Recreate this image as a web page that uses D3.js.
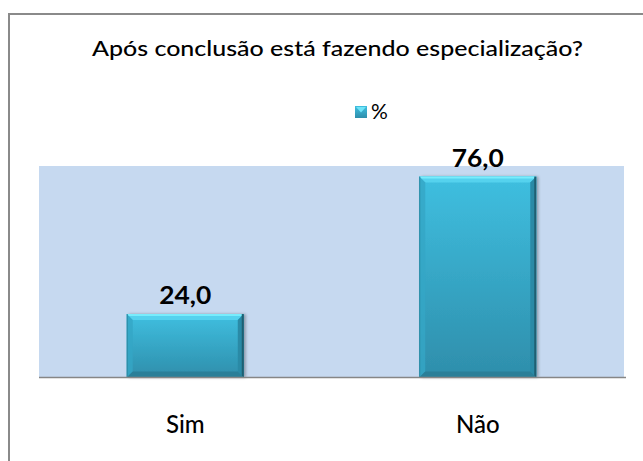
<!DOCTYPE html>
<html><head><meta charset="utf-8">
<script src="https://cdn.jsdelivr.net/npm/d3@7"></script>
<style>body{margin:0;background:#fff}svg{display:block}</style>
</head><body>
<script>
const categories = ["Sim", "Não"];
const values = [24.0, 76.0];
const seriesName = "%";
const title = "Após conclusão está fazendo especialização?";
const yMax = 80;

const W = 643, H = 461;
const svg = d3.select("body").append("svg").attr("width", W).attr("height", H);
const font = "Lato, 'Open Sans', sans-serif";

// frame
svg.append("rect").attr("x", 9).attr("y", 14).attr("width", 700).attr("height", 600)
  .attr("fill", "#fff").attr("stroke", "#8a8a8a").attr("stroke-width", 2);

const plot = {left: 39, right: 624, top: 166, bottom: 377.5};
const x = d3.scaleBand().domain(categories).range([plot.left, plot.right]).paddingInner(0.6).paddingOuter(0.3);
const y = d3.scaleLinear().domain([0, yMax]).range([plot.bottom, plot.top]);

svg.append("rect").attr("x", plot.left).attr("y", plot.top)
  .attr("width", plot.right - plot.left).attr("height", plot.bottom - plot.top).attr("fill", "#c6d9f0");

const defs = svg.append("defs");
const g1 = defs.append("linearGradient").attr("id", "barg").attr("x1", 0).attr("y1", 0).attr("x2", 0).attr("y2", 1);
g1.append("stop").attr("offset", "0%").attr("stop-color", "#3fbfe0");
g1.append("stop").attr("offset", "100%").attr("stop-color", "#2e8eab");
const f = defs.append("filter").attr("id", "sh").attr("x", "-20%").attr("y", "-20%").attr("width", "140%").attr("height", "140%");
f.append("feGaussianBlur").attr("in", "SourceAlpha").attr("stdDeviation", 1.5);
f.append("feOffset").attr("dx", 2).attr("dy", 0).attr("result", "b");
f.append("feComponentTransfer").append("feFuncA").attr("type", "linear").attr("slope", 0.3);
const m = f.append("feMerge"); m.append("feMergeNode"); m.append("feMergeNode").attr("in", "SourceGraphic");

const bars = svg.append("g").selectAll("g").data(categories).join("g");
bars.each(function(c, i) {
  const g = d3.select(this);
  const x0 = x(c), x1 = x(c) + x.bandwidth(), y0 = y(values[i]), y1 = y(0);
  const b = 6;
  g.append("rect").attr("x", x0).attr("y", y0).attr("width", x1 - x0).attr("height", y1 - y0)
    .attr("fill", "url(#barg)").attr("filter", "url(#sh)");
  g.append("path").attr("d", `M${x0},${y0}L${x1},${y0}L${x1-b},${y0+b}L${x0+b},${y0+b}Z`).attr("fill", "#55d2ee");
  g.append("path").attr("d", `M${x0},${y0}L${x1},${y0}L${x1-2},${y0+2}L${x0+2},${y0+2}Z`).attr("fill", "#78ecfc");
  g.append("path").attr("d", `M${x0},${y0}L${x0+b},${y0+b}L${x0+b},${y1-b}L${x0},${y1}Z`).attr("fill", "#35a6c6").attr("opacity", 0.8);
  g.append("path").attr("d", `M${x1},${y0}L${x1-b},${y0+b}L${x1-b},${y1-b}L${x1},${y1}Z`).attr("fill", "#2a8aa6");
  g.append("rect").attr("x", x1 - 2).attr("y", y0).attr("width", 2).attr("height", y1 - y0).attr("fill", "#1f5f72");
  g.append("path").attr("d", `M${x0},${y1}L${x0+b},${y1-b}L${x1-b},${y1-b}L${x1},${y1}Z`).attr("fill", "#2a7f98");
  g.append("rect").attr("x", x0).attr("y", y0).attr("width", 1).attr("height", y1 - y0).attr("fill", "#2b8aa4");
});

// axis line
svg.append("line").attr("x1", plot.left).attr("x2", plot.right + 2).attr("y1", plot.bottom).attr("y2", plot.bottom)
  .attr("stroke", "#868686").attr("stroke-width", 1.5);

// data labels
svg.append("g").selectAll("text").data(categories).join("text")
  .attr("x", c => x(c) + x.bandwidth() / 2)
  .attr("y", (c, i) => y(values[i]) - 10)
  .attr("text-anchor", "middle").attr("font-family", font).attr("font-weight", "bold").attr("font-size", 25)
  .attr("fill", "#000").attr("textLength", 52).attr("lengthAdjust", "spacingAndGlyphs")
  .text((c, i) => values[i].toFixed(1).replace(".", ","));

// category labels
svg.append("g").selectAll("text").data(categories).join("text")
  .attr("x", c => x(c) + x.bandwidth() / 2).attr("y", 433)
  .attr("text-anchor", "middle").attr("font-family", font).attr("font-size", 24).attr("font-weight", 500)
  .attr("fill", "#000").text(c => c);

// title
svg.append("text").attr("x", 337.5).attr("y", 56).attr("text-anchor", "middle")
  .attr("font-family", font).attr("font-size", 22).attr("font-weight", 500).attr("fill", "#000")
  .attr("textLength", 491).attr("lengthAdjust", "spacingAndGlyphs").text(title);

// legend
const lg = svg.append("g");
lg.append("rect").attr("x", 355).attr("y", 106).attr("width", 12).attr("height", 12).attr("fill", "url(#barg)");
lg.append("path").attr("d", "M356,107L366,107L361,112.5Z").attr("fill", "#6fe4f8");
lg.append("text").attr("x", 371).attr("y", 119).attr("font-family", font).attr("font-size", 21).attr("fill", "#000").text(seriesName);
</script>
</body></html>
